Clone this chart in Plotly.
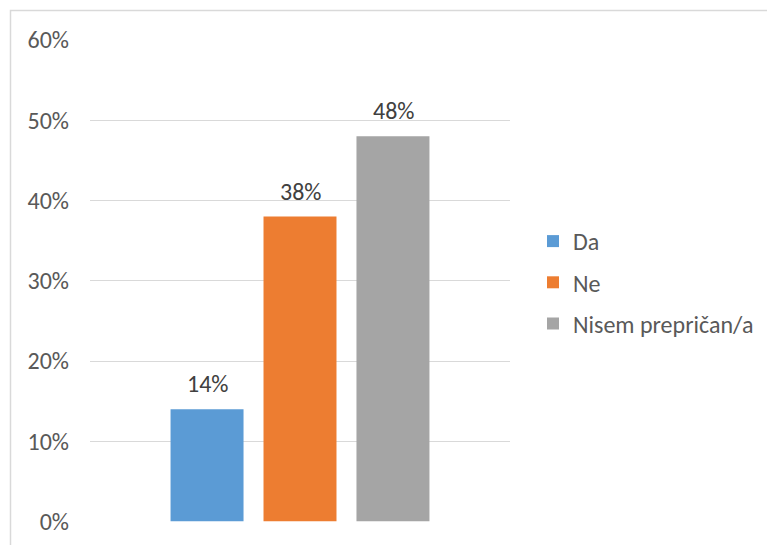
import plotly.graph_objects as go

W, H = 767, 545
series = ["Da", "Ne", "Nisem prepričan/a"]
values = [0.14, 0.38, 0.48]
labels = ["14%", "38%", "48%"]
colors = ["#5b9bd5", "#ed7d31", "#a5a5a5"]
category = ["grupa"]
tick_vals = [0, 0.1, 0.2, 0.3, 0.4, 0.5, 0.6]
tick_text = ["0%", "10%", "20%", "30%", "40%", "50%", "60%"]

FONT = "Carlito, Open Sans"
FS = 24
SLOT_PX = 93  # horizontal distance between neighbouring bars (px)

fig = go.Figure()
for i, (s, v, c) in enumerate(zip(series, values, colors)):
    fig.add_trace(go.Bar(
        x=category, y=[v], name=s, marker=dict(color=c, line=dict(width=0)),
        legendgroup=s, hoverinfo="name+y",
    ))

annotations = []
n = len(series)
for i, (v, lab) in enumerate(zip(values, labels)):
    annotations.append(dict(
        x=category[0], y=v, xref="x", yref="y", text=lab, showarrow=False,
        xanchor="center", yanchor="bottom", xshift=(i - (n - 1) / 2) * SLOT_PX,
        yshift=9, font=dict(family=FONT, size=FS, color="#404040"),
    ))

fig.update_layout(
    template="none",
    width=W, height=H,
    margin=dict(l=0, r=0, t=0, b=0, autoexpand=False),
    paper_bgcolor="white", plot_bgcolor="white",
    barmode="group", bargap=0.336, bargroupgap=0.215,
    showlegend=True,
    legend=dict(x=533 / W, y=1 - 219 / H, xanchor="left", yanchor="top",
                font=dict(family=FONT, size=FS, color="#595959"),
                tracegroupgap=7, itemwidth=30, bgcolor="rgba(0,0,0,0)",
                borderwidth=0),
    xaxis=dict(type="category", domain=[90 / W, 510 / W], showticklabels=False,
               showgrid=False, zeroline=False, showline=False, fixedrange=True,
               automargin=False),
    yaxis=dict(domain=[(H - 521.5) / H, (H - 40) / H], range=[0, 0.6],
               tickvals=tick_vals, ticktext=tick_text, showgrid=True,
               gridcolor="#d9d9d9", gridwidth=1.3, zeroline=False, showline=False,
               ticks="", ticklabelstandoff=20, automargin=False,
               tickfont=dict(family=FONT, size=FS, color="#595959")),
    annotations=annotations,
    shapes=[dict(type="rect", xref="paper", yref="paper",
                 x0=10.5 / W, x1=1.05, y0=-0.05, y1=1 - 10.5 / H,
                 line=dict(color="#d9d9d9", width=1.5), layer="below")],
)

fig.write_html("out.html")
